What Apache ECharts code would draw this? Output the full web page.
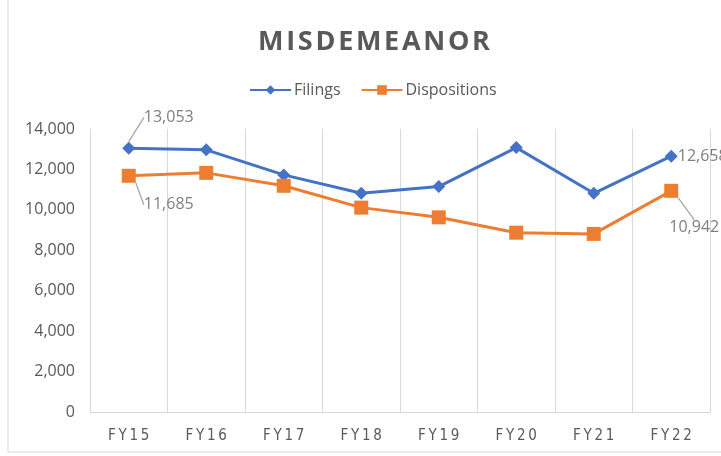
<!DOCTYPE html>
<html>
<head>
    <meta charset="UTF-8">
    <title>Misdemeanor</title>
    <script src="https://cdn.jsdelivr.net/npm/echarts@6/dist/echarts.min.js"></script>
    <style>
        body { margin: 0; background: #fff; }
        #main { width: 721px; height: 456px; }
    </style>
</head>
<body>
<div id="main"></div>
<script type="text/javascript">
    // data
    var years = ['FY15', 'FY16', 'FY17', 'FY18', 'FY19', 'FY20', 'FY21', 'FY22'];
    var filings = [13053, 12970, 11730, 10820, 11150, 13080, 10820, 12658];
    var dispositions = [11685, 11830, 11190, 10110, 9630, 8870, 8810, 10942];
    var yTicks = [0, 2000, 4000, 6000, 8000, 10000, 12000, 14000];

    // which points carry a value label, and where it sits
    var filingsLabels = {
        0: { position: 'top', dx: 40, dy: -11, line: true },
        7: { position: 'right', dx: -5, dy: 0, line: false }
    };
    var dispLabels = {
        0: { position: 'bottom', dx: 40, dy: 9, line: true },
        7: { position: 'bottom', dx: 23, dy: 17, line: true }
    };

    function spaced(s, sp) { return s.split('').join(sp); }

    function withLabels(values, marks) {
        return values.map(function (v, i) {
            var item = { value: v };
            if (marks[i]) {
                item.label = { show: true, position: marks[i].position };
                if (!marks[i].line) item.labelLine = { show: false };
            }
            return item;
        });
    }

    function layoutFor(marks) {
        return function (p) {
            var m = marks[p.dataIndex];
            return m ? { dx: m.dx, dy: m.dy } : {};
        };
    }

    var valueLabel = {
        color: '#7f7f7f', fontSize: 16, fontFamily: 'Open Sans',
        formatter: function (p) { return p.value.toLocaleString('en-US'); }
    };
    var leader = { show: true, lineStyle: { color: '#a6a6a6', width: 1.3 } };

    var myChart = echarts.init(document.getElementById('main'));
    var option = {
        animation: false,
        graphic: [{
            type: 'polyline',
            shape: { points: [[8, 0], [8, 452], [721, 452]] },
            style: { stroke: '#d9d9d9', fill: null, lineWidth: 1 }
        }],
        title: {
            text: spaced('MISDEMEANOR', '\u200a'),
            left: 369, top: 24, textAlign: 'center',
            textStyle: { fontSize: 27, fontWeight: 'bold', color: '#595959', fontFamily: 'Open Sans' }
        },
        legend: {
            top: 77, left: 244, itemGap: 20, itemWidth: 41, itemHeight: 12,
            textStyle: { fontSize: 16, color: '#595959', fontFamily: 'Open Sans', padding: [0, 0, 0, -2] },
            data: ['Filings', 'Dispositions']
        },
        grid: { left: 90, right: 11, top: 129, bottom: 44 },
        xAxis: {
            type: 'category',
            data: years,
            boundaryGap: true,
            axisLine: { lineStyle: { color: '#d9d9d9' } },
            axisTick: { show: false },
            splitLine: { show: true, lineStyle: { color: '#d9d9d9', width: 1 } },
            axisLabel: { color: '#595959', fontSize: 15, margin: 17, fontFamily: 'DejaVu Sans Condensed',
                formatter: function (v) { return spaced(v, '\u2009'); } }
        },
        yAxis: {
            type: 'value',
            min: yTicks[0], max: yTicks[yTicks.length - 1], interval: 2000,
            axisLine: { show: false },
            axisTick: { show: false },
            splitLine: { show: false },
            axisLabel: { color: '#595959', fontSize: 16, margin: 15, fontFamily: 'Open Sans',
                formatter: function (v) { return v.toLocaleString('en-US'); } }
        },
        series: [{
            name: 'Filings',
            type: 'line',
            symbol: 'diamond', symbolSize: 13,
            color: '#4472C4',
            lineStyle: { width: 3 },
            label: valueLabel,
            labelLine: leader,
            labelLayout: layoutFor(filingsLabels),
            data: withLabels(filings, filingsLabels)
        }, {
            name: 'Dispositions',
            type: 'line',
            symbol: 'rect', symbolSize: 14,
            color: '#ED7D31',
            lineStyle: { width: 3 },
            label: valueLabel,
            labelLine: leader,
            labelLayout: layoutFor(dispLabels),
            data: withLabels(dispositions, dispLabels)
        }]
    };
    myChart.setOption(option);
</script>
</body>
</html>
